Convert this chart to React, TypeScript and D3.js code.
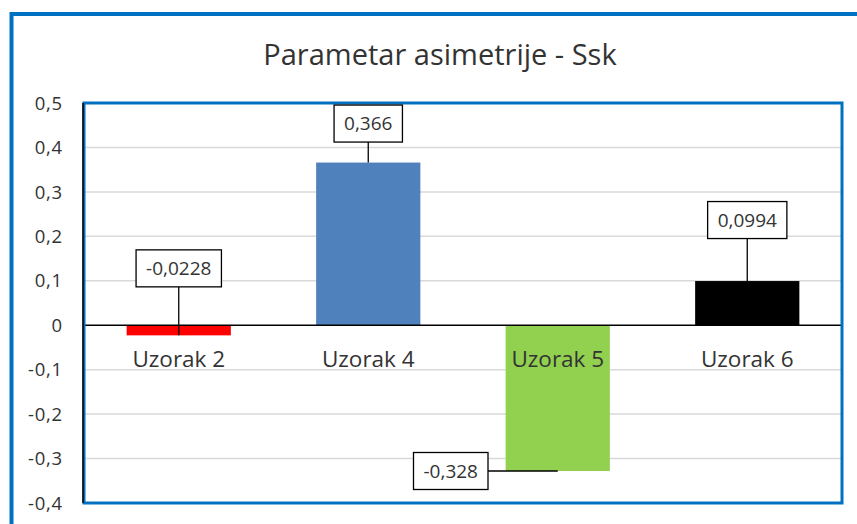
import React, { useLayoutEffect, useRef, useState } from 'react'
import * as d3 from 'd3'

const title = 'Parametar asimetrije - Ssk'
const categories = ['Uzorak 2', 'Uzorak 4', 'Uzorak 5', 'Uzorak 6']
const values = [-0.0228, 0.366, -0.328, 0.0994]
const valueLabels = ['-0,0228', '0,366', '-0,328', '0,0994']
const barColors = ['#FF0000', '#4F81BD', '#92D050', '#000000']
const yTicks = [-0.4, -0.3, -0.2, -0.1, 0, 0.1, 0.2, 0.3, 0.4, 0.5]

// where Excel's labels were dragged to (box centre relative to bar end, px)
const labelOffsets = [
  [0, -67],
  [0, -39],
  [-107, 0],
  [0, -61],
]

const FONT = '"Open Sans", Lato, sans-serif'
const TEXT = '#333333'
const BORDER = '#0070C0'

const W = 857
const H = 524
const plot = { left: 84, right: 842, top: 103, bottom: 503 }

const fmt = (v: number) => (v === 0 ? '0' : d3.format('.1f')(v).replace('.', ',').replace('−', '-'))

const App = () => {
  const textRefs = useRef<(SVGTextElement | null)[]>([])
  const [boxW, setBoxW] = useState<number[]>(valueLabels.map(() => 70))

  useLayoutEffect(() => {
    setBoxW(textRefs.current.map((t) => (t ? t.getComputedTextLength() + 20 : 70)))
  }, [])

  const x = d3
    .scaleBand()
    .domain(categories)
    .range([plot.left, plot.right])
    .paddingInner(0.45)
    .paddingOuter(0.225)
  const y = d3.scaleLinear().domain([-0.4, 0.5]).range([plot.bottom, plot.top])

  const y0 = y(0)

  return (
    <svg
      width={W}
      height={H}
      style={{ position: 'absolute', left: 0, top: 0, background: '#fff' }}
      fontFamily={FONT}
    >
      <rect x={0} y={0} width={W} height={H} fill="#fff" />
      {/* chart area border, runs off the right and bottom */}
      <rect x={11.5} y={14} width={W + 20} height={H + 20} fill="none" stroke={BORDER} strokeWidth={4} />

      <text x={440} y={65} textAnchor="middle" fontSize={29} fill={TEXT}>
        {title}
      </text>

      {/* gridlines */}
      {yTicks
        .filter((t) => t !== 0 && t !== -0.4 && t !== 0.5)
        .map((t) => (
          <line
            key={`g${t}`}
            x1={plot.left}
            x2={plot.right}
            y1={y(t)}
            y2={y(t)}
            stroke="#D9D9D9"
            strokeWidth={1.5}
          />
        ))}

      {/* bars */}
      {categories.map((c, i) => {
        const v = values[i]
        return (
          <rect
            key={c}
            x={x(c)}
            y={Math.min(y(v), y0)}
            width={x.bandwidth()}
            height={Math.abs(y(v) - y0)}
            fill={barColors[i]}
          />
        )
      })}

      {/* zero line */}
      <line x1={plot.left} x2={plot.right} y1={y0} y2={y0} stroke="#000" strokeWidth={1.5} />

      {/* plot border */}
      <rect
        x={plot.left}
        y={plot.top}
        width={plot.right - plot.left}
        height={plot.bottom - plot.top}
        fill="none"
        stroke={BORDER}
        strokeWidth={3}
      />
      <line x1={plot.left - 1} x2={plot.left - 1} y1={plot.top} y2={plot.bottom} stroke="#000" strokeWidth={1.5} />

      {/* y tick labels */}
      {yTicks.map((t) => (
        <text
          key={`t${t}`}
          x={63}
          y={y(t)}
          dy="0.36em"
          textAnchor="end"
          fontSize={18.5}
          letterSpacing={0.8}
          fill={TEXT}
        >
          {fmt(t)}
        </text>
      ))}

      {/* category labels */}
      {categories.map((c) => (
        <text key={`c${c}`} x={(x(c) as number) + x.bandwidth() / 2} y={367} textAnchor="middle" fontSize={22.5} fill={TEXT}>
          {c}
        </text>
      ))}

      {/* data labels with leader lines */}
      {categories.map((c, i) => {
        const cx = (x(c) as number) + x.bandwidth() / 2
        const vy = y(values[i])
        const [dx, dy] = labelOffsets[i]
        const bx = cx + dx
        const by = vy + dy
        const bw = boxW[i]
        const bh = 37
        const leader =
          dx === 0
            ? { x1: cx, y1: by + bh / 2, x2: cx, y2: vy }
            : { x1: bx + bw / 2, y1: by, x2: cx, y2: vy }
        return (
          <g key={`l${c}`}>
            <line {...leader} stroke="#000" strokeWidth={1.3} />
            <rect x={bx - bw / 2} y={by - bh / 2} width={bw} height={bh} fill="#fff" stroke="#000" strokeWidth={1.3} />
            <text
              ref={(el) => {
                textRefs.current[i] = el
              }}
              x={bx}
              y={by}
              dy="0.36em"
              textAnchor="middle"
              fontSize={19}
              fill={TEXT}
            >
              {valueLabels[i]}
            </text>
          </g>
        )
      })}
    </svg>
  )
}

export default App
